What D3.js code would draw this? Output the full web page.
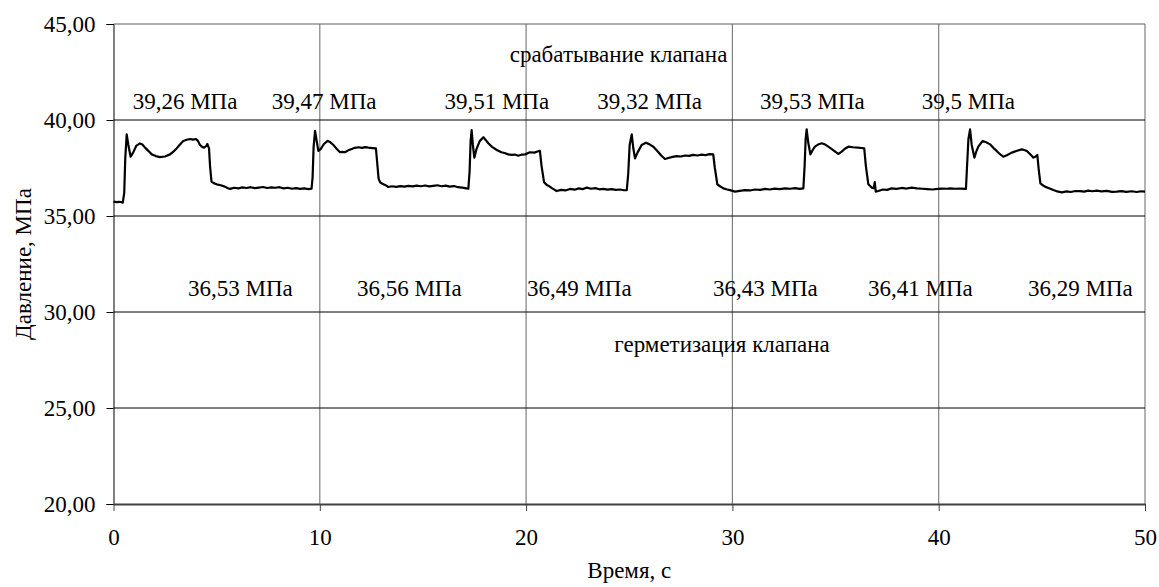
<!DOCTYPE html>
<html>
<head>
<meta charset="utf-8">
<script src="https://cdn.jsdelivr.net/npm/d3@7"></script>
</head>
<body style="margin:0">
<script>
const margin = { top: 24, right: 14, bottom: 83, left: 113.5 };
const width = 1159 - margin.left - margin.right;
const height = 587 - margin.top - margin.bottom;

// pressure trace: [time, s ; pressure, MPa]
const trace = [
  [0, 35.75], [0.15, 35.72], [0.3, 35.74], [0.45, 35.70], [0.52, 36.2], [0.57, 38.0], [0.64, 39.25],
  [0.72, 38.7], [0.83, 38.09], [0.95, 38.3], [1.1, 38.65], [1.28, 38.78], [1.4, 38.72], [1.53, 38.56],
  [1.7, 38.38], [1.85, 38.21], [2.05, 38.12], [2.25, 38.07], [2.5, 38.1], [2.74, 38.21], [2.9, 38.35],
  [3.06, 38.52], [3.2, 38.7], [3.38, 38.91], [3.55, 38.97], [3.71, 39.01], [3.85, 38.98], [4.0, 39.01],
  [4.1, 38.9], [4.19, 38.70], [4.3, 38.6], [4.39, 38.56], [4.5, 38.65], [4.55, 38.75], [4.63, 38.52],
  [4.68, 37.6], [4.75, 36.79], [4.88, 36.7], [5.0, 36.65], [5.2, 36.6], [5.4, 36.53], [5.55, 36.45],
  [5.65, 36.41], [5.85, 36.47], [6.05, 36.44], [6.25, 36.49], [6.45, 36.46], [6.65, 36.5], [6.85, 36.45],
  [7.05, 36.48], [7.25, 36.51], [7.45, 36.46], [7.65, 36.49], [7.85, 36.47], [8.05, 36.5], [8.25, 36.44],
  [8.45, 36.47], [8.65, 36.42], [8.85, 36.45], [9.05, 36.41], [9.25, 36.44], [9.45, 36.40], [9.6, 36.43],
  [9.65, 37.0], [9.7, 38.6], [9.77, 39.43], [9.85, 38.9], [9.93, 38.39], [10.05, 38.5], [10.2, 38.75],
  [10.38, 38.91], [10.5, 38.85], [10.66, 38.70], [10.8, 38.52], [10.98, 38.32], [11.1, 38.34], [11.22, 38.32],
  [11.38, 38.42], [11.55, 38.49], [11.7, 38.55], [11.87, 38.58], [12.05, 38.55], [12.2, 38.59], [12.35, 38.56],
  [12.55, 38.54], [12.72, 38.52], [12.78, 37.8], [12.85, 36.95], [12.92, 36.76], [13.08, 36.65], [13.2, 36.6],
  [13.32, 36.51], [13.5, 36.55], [13.7, 36.52], [13.9, 36.56], [14.1, 36.53], [14.3, 36.57], [14.5, 36.54],
  [14.7, 36.58], [14.9, 36.55], [15.1, 36.59], [15.3, 36.54], [15.5, 36.57], [15.7, 36.6], [15.9, 36.55],
  [16.1, 36.58], [16.3, 36.53], [16.5, 36.56], [16.7, 36.5], [16.9, 36.48], [17.1, 36.44], [17.2, 36.42],
  [17.26, 37.3], [17.31, 38.9], [17.36, 39.48], [17.42, 38.7], [17.49, 38.04], [17.6, 38.5], [17.75, 38.9],
  [17.93, 39.10], [18.05, 38.95], [18.17, 38.79], [18.35, 38.6], [18.58, 38.44], [18.8, 38.32], [18.95, 38.28],
  [19.14, 38.21], [19.3, 38.18], [19.45, 38.2], [19.62, 38.14], [19.8, 38.2], [19.95, 38.21], [20.19, 38.32],
  [20.4, 38.3], [20.55, 38.36], [20.67, 38.39], [20.75, 37.6], [20.87, 36.76], [21.0, 36.62], [21.08, 36.58],
  [21.25, 36.45], [21.48, 36.30], [21.7, 36.36], [21.9, 36.33], [22.13, 36.41], [22.35, 36.37], [22.55, 36.44],
  [22.75, 36.40], [22.94, 36.48], [23.15, 36.42], [23.35, 36.45], [23.55, 36.39], [23.74, 36.41], [23.95, 36.37],
  [24.15, 36.4], [24.35, 36.36], [24.55, 36.38], [24.75, 36.34], [24.88, 36.35], [24.95, 37.2], [25.02, 38.7],
  [25.12, 39.25], [25.2, 38.5], [25.28, 38.0], [25.4, 38.3], [25.6, 38.7], [25.81, 38.82], [26.0, 38.72],
  [26.17, 38.61], [26.35, 38.4], [26.55, 38.15], [26.73, 37.97], [26.9, 38.02], [27.1, 38.08], [27.3, 38.12],
  [27.5, 38.1], [27.7, 38.15], [27.9, 38.13], [28.1, 38.18], [28.3, 38.15], [28.5, 38.2], [28.7, 38.17],
  [28.9, 38.22], [29.07, 38.21], [29.15, 37.5], [29.27, 36.65], [29.4, 36.55], [29.56, 36.44], [29.75, 36.38],
  [29.88, 36.35], [30.13, 36.27], [30.35, 36.31], [30.61, 36.35], [30.85, 36.33], [31.1, 36.38], [31.35, 36.36],
  [31.58, 36.41], [31.8, 36.38], [32.05, 36.43], [32.3, 36.40], [32.55, 36.44], [32.8, 36.42], [33.05, 36.45],
  [33.25, 36.41], [33.44, 36.44], [33.5, 37.6], [33.55, 39.0], [33.6, 39.51], [33.68, 38.8], [33.78, 38.21],
  [33.9, 38.45], [34.0, 38.61], [34.15, 38.72], [34.33, 38.79], [34.5, 38.72], [34.65, 38.61], [34.9, 38.42],
  [35.13, 38.23], [35.3, 38.35], [35.45, 38.5], [35.62, 38.61], [35.85, 38.58], [36.1, 38.56], [36.25, 38.54],
  [36.39, 38.52], [36.47, 37.6], [36.59, 36.65], [36.75, 36.48], [36.85, 36.45], [36.9, 36.76], [36.95, 36.27],
  [37.07, 36.30], [37.3, 36.38], [37.5, 36.36], [37.72, 36.44], [37.95, 36.41], [38.2, 36.46], [38.45, 36.43],
  [38.69, 36.48], [38.95, 36.44], [39.2, 36.42], [39.45, 36.40], [39.7, 36.38], [39.95, 36.41], [40.2, 36.43],
  [40.4, 36.42], [40.55, 36.44], [40.8, 36.42], [41.05, 36.43], [41.32, 36.41], [41.37, 37.5], [41.44, 39.0],
  [41.52, 39.51], [41.6, 38.7], [41.73, 38.04], [41.82, 38.35], [41.92, 38.61], [42.13, 38.91], [42.3, 38.84],
  [42.49, 38.73], [42.65, 38.55], [42.81, 38.39], [42.97, 38.22], [43.13, 38.09], [43.3, 38.16], [43.54, 38.30],
  [43.8, 38.4], [44.02, 38.47], [44.15, 38.44], [44.27, 38.39], [44.45, 38.2], [44.59, 38.04], [44.7, 38.1],
  [44.78, 38.18], [44.85, 37.4], [44.93, 36.70], [45.05, 36.6], [45.15, 36.53], [45.35, 36.45], [45.56, 36.35],
  [45.75, 36.28], [45.96, 36.23], [46.2, 36.28], [46.4, 36.25], [46.63, 36.3], [46.85, 36.30], [47.05, 36.27],
  [47.25, 36.32], [47.45, 36.29], [47.66, 36.32], [47.9, 36.28], [48.15, 36.31], [48.4, 36.26], [48.63, 36.27],
  [48.85, 36.3], [49.1, 36.26], [49.35, 36.29], [49.6, 36.25], [49.8, 36.29], [50.0, 36.27]
];

const xTicks = [0, 10, 20, 30, 40, 50];
const yTicks = [20, 25, 30, 35, 40, 45];

// opening pressures (top row) and sealing pressures (bottom row), anchored in data units
const openLabels = [
  { t: 0.93, p: 40.56, text: "39,26 МПа" },
  { t: 7.67, p: 40.56, text: "39,47 МПа" },
  { t: 16.04, p: 40.56, text: "39,51 МПа" },
  { t: 23.45, p: 40.56, text: "39,32 МПа" },
  { t: 31.34, p: 40.56, text: "39,53 МПа" },
  { t: 39.18, p: 40.56, text: "39,5 МПа" }
];
const sealLabels = [
  { t: 3.61, p: 30.83, text: "36,53 МПа" },
  { t: 11.8, p: 30.83, text: "36,56 МПа" },
  { t: 20.04, p: 30.83, text: "36,49 МПа" },
  { t: 29.06, p: 30.83, text: "36,43 МПа" },
  { t: 36.57, p: 30.83, text: "36,41 МПа" },
  { t: 44.33, p: 30.83, text: "36,29 МПа" }
];
const notes = [
  { t: 24.48, p: 43.02, text: "срабатывание клапана" },
  { t: 29.5, p: 27.92, text: "герметизация клапана" }
];

const svg = d3.select("body")
  .append("svg")
  .attr("width", width + margin.left + margin.right)
  .attr("height", height + margin.top + margin.bottom)
  .attr("font-family", "Liberation Serif")
  .attr("font-size", 23);

const chart = svg.append("g")
  .attr("transform", `translate(${margin.left},${margin.top})`);

const x = d3.scaleLinear().domain([0, 50]).range([0, width]);
const y = d3.scaleLinear().domain([20, 45]).range([height, 0]);

const comma = d => d3.format(".2f")(d).replace(".", ",");

// vertical grid, grey
chart.append("g")
  .selectAll("line")
  .data(xTicks.slice(1))
  .join("line")
  .attr("x1", d => x(d)).attr("x2", d => x(d))
  .attr("y1", 0).attr("y2", height)
  .attr("stroke", "#808080")
  .attr("stroke-width", 1.2);

// horizontal grid, black
chart.append("g")
  .selectAll("line")
  .data(yTicks.slice(1, -1))
  .join("line")
  .attr("x1", 0).attr("x2", width)
  .attr("y1", d => y(d)).attr("y2", d => y(d))
  .attr("stroke", "#000")
  .attr("stroke-width", 1);

chart.append("line")
  .attr("x1", 0).attr("x2", width)
  .attr("y1", y(45)).attr("y2", y(45))
  .attr("stroke", "#606060")
  .attr("stroke-width", 1.2);

const yAxis = chart.append("g")
  .call(d3.axisLeft(y).tickValues(yTicks).tickSize(7).tickPadding(11).tickFormat(comma))
  .attr("font-family", null)
  .attr("font-size", null);
yAxis.select(".domain").attr("stroke", "#000");
yAxis.selectAll("text").attr("fill", "#000");

const xAxis = chart.append("g")
  .attr("transform", `translate(0,${height})`)
  .call(d3.axisBottom(x).tickValues(xTicks).tickSize(7).tickPadding(18).tickSizeOuter(0))
  .attr("font-family", null)
  .attr("font-size", null);
xAxis.select(".domain").attr("stroke", "#404040").attr("stroke-width", 2);
xAxis.selectAll(".tick line").attr("stroke", "#404040");
xAxis.selectAll("text").attr("fill", "#000");

const line = d3.line()
  .x(d => x(d[0]))
  .y(d => y(d[1]));

chart.append("path")
  .datum(trace)
  .attr("fill", "none")
  .attr("stroke", "#000")
  .attr("stroke-width", 2.2)
  .attr("stroke-linejoin", "round")
  .attr("d", line);

chart.selectAll(".peak")
  .data(openLabels.concat(sealLabels))
  .join("text")
  .attr("class", "peak")
  .attr("x", d => x(d.t))
  .attr("y", d => y(d.p))
  .text(d => d.text);

chart.selectAll(".note")
  .data(notes)
  .join("text")
  .attr("class", "note")
  .attr("x", d => x(d.t))
  .attr("y", d => y(d.p))
  .attr("text-anchor", "middle")
  .text(d => d.text);

svg.append("text")
  .attr("x", margin.left + width / 2)
  .attr("y", 578)
  .attr("text-anchor", "middle")
  .text("Время, с");

svg.append("text")
  .attr("transform", "rotate(-90)")
  .attr("x", -264)
  .attr("y", 31)
  .attr("text-anchor", "middle")
  .text("Давление, МПа");
</script>
</body>
</html>
